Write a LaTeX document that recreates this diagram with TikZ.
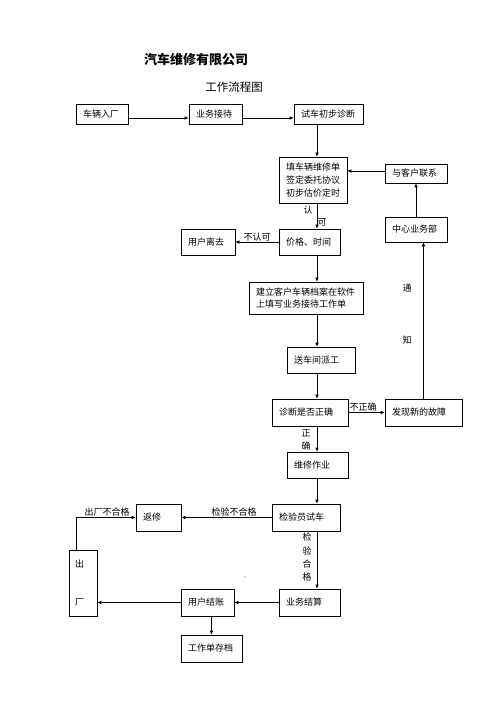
\documentclass[tikz,border=0pt]{standalone}
\usepackage{fontspec}
\newfontfamily\cjk{Noto Sans CJK SC}
\usetikzlibrary{arrows.meta}

\tikzset{
    box/.style={draw, line width=0.6pt, inner xsep=7pt, inner ysep=0pt, align=left,
        font=\cjk\fontsize{9}{13.3}\selectfont},
    arr/.style={-{Latex[length=4pt,width=3.5pt]}, line width=0.6pt},
    lbl/.style={inner sep=0pt, font=\cjk\fontsize{9}{11}\selectfont},
}

\begin{document}
\begin{tikzpicture}[x=1pt,y=-1pt]
                \useasboundingbox (0,0) rectangle (500,708);
                %%title
                \node[font=\cjk\bfseries\fontsize{13}{15}\selectfont] (title) at (196,60) {汽车维修有限公司};
                \node[font=\cjk\fontsize{11.5}{13}\selectfont] (subtitle) at (234,87) {工作流程图};

                %%top row
                \node[box, text width=38pt, minimum height=20pt] (ruchang) at (102,114) {车辆入厂};
                \node[box, text width=39pt, minimum height=20pt] (jiedai) at (215.5,114) {业务接待};
                \node[box, text width=55pt, minimum height=20pt] (zhenduan) at (328.5,114) {试车初步诊断};

                %%main column
                \coordinate (axis) at (317,0);
                \node[box, text width=54pt, minimum height=46pt] (tiandan) at (313,180) {填车辆维修单\\签定委托协议\\初步估价定时};
                \node[box, text width=47pt, minimum height=26pt] (jiage) at (309.5,242) {价格、时间};
                \node[box, text width=40pt, minimum height=26pt] (likai) at (208,242) {用户离去};
                \node[box, text width=100pt, minimum height=32pt,
                    font=\cjk\fontsize{9}{11.7}\selectfont] (dangan) at (306,298) {建立客户车辆档案在软件\\上填写业务接待工作单};
                \node[box, text width=54pt, minimum height=26pt] (paigong) at (321,360) {送车间派工};
                \node[box, text width=62pt, minimum height=27pt] (queren) at (310,412.5) {诊断是否正确};
                \node[box, text width=47pt, minimum height=26pt] (zuoye) at (317.5,465) {维修作业};
                \node[box, text width=54pt, minimum height=27pt] (shiche) at (306,517.5) {检验员试车};
                \node[box, text width=47pt, minimum height=27pt] (jiesuan) at (309.5,602.5) {业务结算};

                %%right part
                \node[box, text width=48pt, minimum height=19pt] (lianxi) at (416,173.5) {与客户联系};
                \node[box, text width=48pt, minimum height=25pt] (zhongxin) at (416,229.5) {中心业务部};
                \node[box, text width=63pt, minimum height=27pt] (guzhang) at (423.5,412.5) {发现新的故障};

                %%left part
                \node[box, text width=31pt, minimum height=27pt] (fanxiu) at (158.5,517.5) {返修};
                \node[box, text width=16pt, minimum height=66pt, inner xsep=6pt] (chuchang) at (83,583) {出\\[25pt]厂};
                \node[box, text width=39pt, minimum height=27pt] (jiezhang) at (207.5,602.5) {用户结账};
                \node[box, text width=47pt, minimum height=27pt] (cundang) at (211.5,648.5) {工作单存档};

                %%arrows
                \draw[arr] ([yshift=-4pt]ruchang.east) -- ([yshift=-4pt]jiedai.west);
                \draw[arr] ([yshift=-4pt]jiedai.east) -- ([yshift=-4pt]zhenduan.west);
                \draw[arr] (zhenduan.south -| axis) -- (tiandan.north -| axis);
                \draw[arr] (tiandan.south -| axis) -- (jiage.north -| axis);
                \draw[arr] (jiage) -- (likai);
                \draw[arr] (jiage.south -| axis) -- (dangan.north -| axis);
                \draw[arr] (dangan.south -| axis) -- (paigong.north -| axis);
                \draw[arr] (paigong.south -| axis) -- (queren.north -| axis);
                \draw[arr] (queren) -- (guzhang);
                \draw[arr] (guzhang.north) -- (guzhang.north |- zhongxin.south);
                \draw[arr] (zhongxin) -- (lianxi);
                \draw[arr] ([yshift=2.5pt]lianxi.west) -- ([yshift=2.5pt]tiandan.east |- lianxi.west);
                \draw[arr] (queren.south -| axis) -- (zuoye.north -| axis);
                \draw[arr] (zuoye.south -| axis) -- (shiche.north -| axis);
                \draw[arr] (shiche) -- (fanxiu);
                \draw[arr] ([xshift=-7pt]chuchang.north) |- (fanxiu.west);
                \draw[arr] (shiche.south -| axis) -- (jiesuan.north -| axis);
                \draw[arr] (jiesuan) -- (jiezhang);
                \draw[arr] (jiezhang) -- (chuchang.east |- jiezhang.west);
                \draw[arr] (cundang.north |- jiezhang.south) -- (cundang.north);

                %%labels
                \node[lbl] (ren) at (308,210) {认};
                \node[lbl] (ke) at (322,222) {可};
                \node[lbl] (burenke) at (257,237) {不认可};
                \node[lbl] (tong) at (407,288) {通};
                \node[lbl] (zhi) at (407,340) {知};
                \node[lbl] (buzheng) at (363,407) {不正确};
                \node[lbl] (zheng) at (306,433) {正};
                \node[lbl] (que) at (306,446) {确};
                \node[lbl] (jianbu) at (234,512) {检验不合格};
                \node[lbl] (chubu) at (107,512) {出厂不合格};
                \node[lbl] (jian) at (307,537) {检};
                \node[lbl] (yan) at (307,551) {验};
                \node[lbl] (he) at (307,564) {合};
                \node[lbl] (ge) at (307,577) {格};
                \node[lbl, font=\fontsize{5}{5}\selectfont] (dot) at (245,578) {-};
\end{tikzpicture}
\end{document}
